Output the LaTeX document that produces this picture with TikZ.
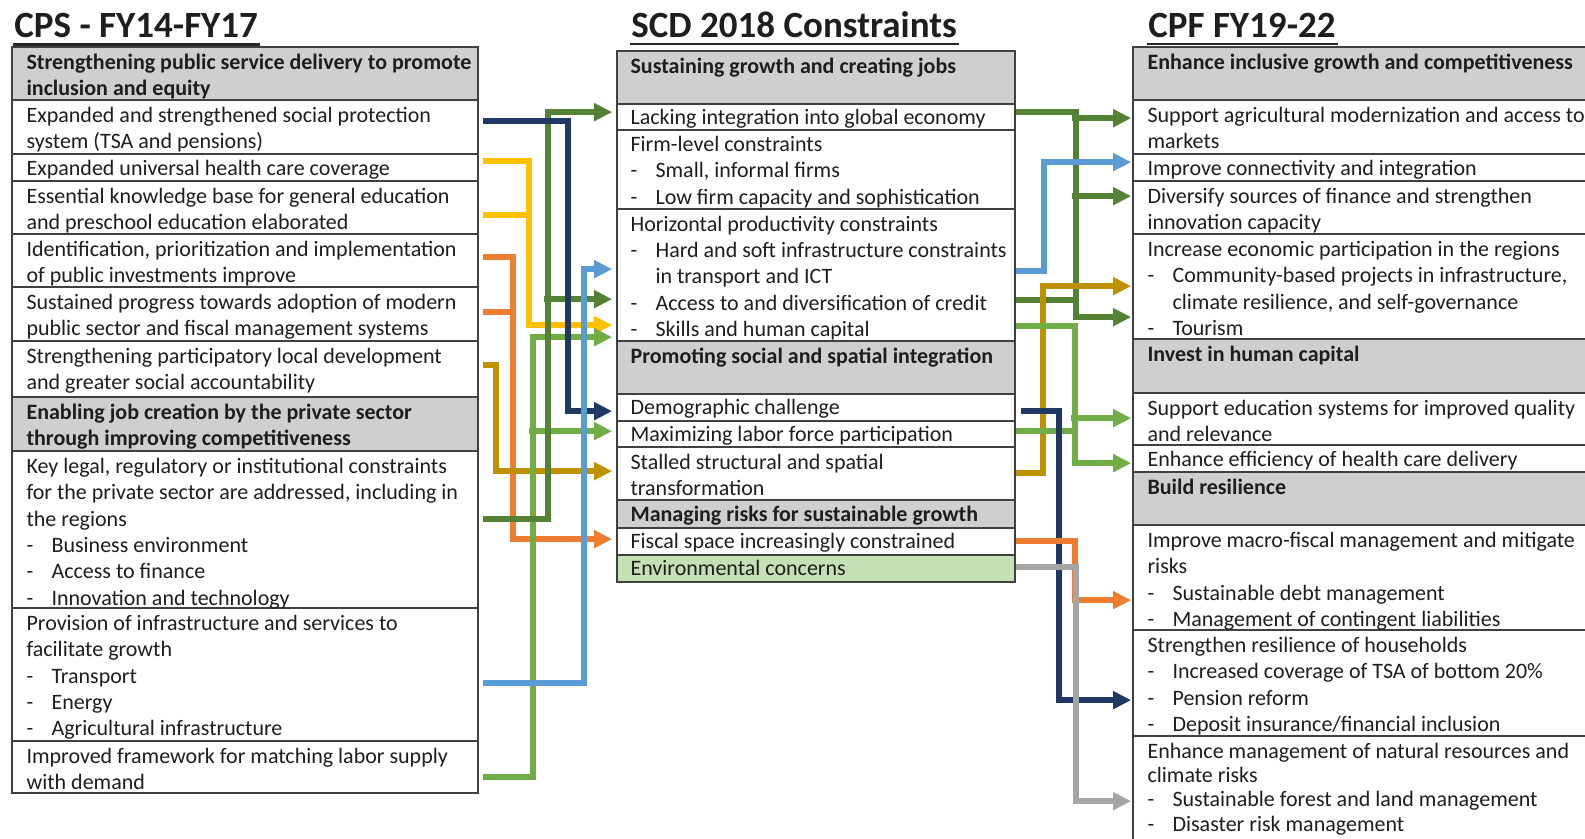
\documentclass[tikz,border=0pt]{standalone}
\usepackage{fontspec}
\setmainfont{Carlito}
\usetikzlibrary{arrows.meta,calc,fit}
\definecolor{navyc}{RGB}{31,56,100}
\definecolor{dgreen}{RGB}{84,130,53}
\definecolor{lgreen}{RGB}{112,173,71}
\definecolor{yellowc}{RGB}{255,192,0}
\definecolor{orangec}{RGB}{237,125,49}
\definecolor{goldc}{RGB}{191,144,0}
\definecolor{bluec}{RGB}{91,155,213}
\definecolor{grayc}{RGB}{165,165,165}
\definecolor{hdgray}{RGB}{208,206,206}
\definecolor{envgreen}{RGB}{197,224,180}
\definecolor{txtc}{RGB}{30,30,30}
\newcommand{\dashitem}[1]{\makebox[12.5pt][l]{-}#1}
\newcommand{\indtext}[1]{\hspace*{12.5pt}#1}
\newcommand{\celltext}[1]{\parbox[t]{300pt}{#1}}
\tikzset{
  cell/.style={draw=black!75, line width=0.85pt, inner sep=0pt, rectangle},
  hd/.style={cell, fill=hdgray},
  env/.style={cell, fill=envgreen},
  txt/.style={anchor=base west, inner sep=0pt, text=txtc, font=\fontsize{11}{13.15}\selectfont},
  ttl/.style={anchor=base west, inner sep=0pt, text=txtc, font=\bfseries\fontsize{18.5}{22}\selectfont},
  conn/.style={line width=2.7pt, -{Triangle[length=9pt,width=8.5pt]}},
  seg/.style={line width=2.7pt}
}
\begin{document}
\begin{tikzpicture}[x=0.5pt,y=-0.5pt]
\useasboundingbox (0,0) rectangle (1585,839);
\clip (0,0) rectangle (1585,839);
\fill[white] (0,0) rectangle (1585,839);

% titles
\node[ttl] (T1) at (14,38) {CPS - FY14-FY17};
\node[ttl] (T2) at (631,37.5) {SCD 2018 Constraints};
\node[ttl] (T3) at (1148,37.5) {CPF FY19-22};
\foreach \t in {T1,T2,T3}
  \draw[line width=1.2pt, black!85] ($(\t.base west)+(-1,6.5)$) -- ($(\t.base east)+(2,6.5)$);

% left column cells
\node[hd,   fit={(12,47)(478,100)}]  (L0) {};
\node[cell, fit={(12,100)(478,154)}] (L1) {};
\node[cell, fit={(12,154)(478,181)}] (L2) {};
\node[cell, fit={(12,181)(478,234)}] (L3) {};
\node[cell, fit={(12,234)(478,287)}] (L4) {};
\node[cell, fit={(12,287)(478,341)}] (L5) {};
\node[cell, fit={(12,341)(478,397)}] (L6) {};
\node[hd,   fit={(12,397)(478,451)}] (L7) {};
\node[cell, fit={(12,451)(478,608)}] (L8) {};
\node[cell, fit={(12,608)(478,741)}] (L9) {};
\node[cell, fit={(12,741)(478,793)}] (L10) {};

\node[txt] (tL0) at ($(L0.north west)+(15,23.5)$) {\celltext{\bfseries Strengthening public service delivery to promote\\inclusion and equity}};
\node[txt] (tL1) at ($(L1.north west)+(15,23.5)$) {\celltext{Expanded and strengthened social protection\\system (TSA and pensions)}};
\node[txt] (tL2) at ($(L2.north west)+(15,22.5)$) {\celltext{Expanded universal health care coverage}};
\node[txt] (tL3) at ($(L3.north west)+(15,23.5)$) {\celltext{Essential knowledge base for general education\\and preschool education elaborated}};
\node[txt] (tL4) at ($(L4.north west)+(15,23.5)$) {\celltext{Identification, prioritization and implementation\\of public investments improve}};
\node[txt] (tL5) at ($(L5.north west)+(15,23.5)$) {\celltext{Sustained progress towards adoption of modern\\public sector and fiscal management systems}};
\node[txt] (tL6) at ($(L6.north west)+(15,23.5)$) {\celltext{Strengthening participatory local development\\and greater social accountability}};
\node[txt] (tL7) at ($(L7.north west)+(15,23.5)$) {\celltext{\bfseries Enabling job creation by the private sector\\through improving competitiveness}};
\node[txt] (tL8) at ($(L8.north west)+(15,23.5)$) {\celltext{Key legal, regulatory or institutional constraints\\for the private sector are addressed, including in\\the regions\\\dashitem{Business environment}\\\dashitem{Access to finance}\\\dashitem{Innovation and technology}}};
\node[txt] (tL9) at ($(L9.north west)+(15,23.5)$) {\celltext{Provision of infrastructure and services to\\facilitate growth\\\dashitem{Transport}\\\dashitem{Energy}\\\dashitem{Agricultural infrastructure}}};
\node[txt] (tL10) at ($(L10.north west)+(15,23.5)$) {\celltext{Improved framework for matching labor supply\\with demand}};

% middle column cells
\node[hd,   fit={(617,51)(1015,104)}]  (M0) {};
\node[cell, fit={(617,104)(1015,130)}] (M1) {};
\node[cell, fit={(617,130)(1015,209)}] (M2) {};
\node[cell, fit={(617,209)(1015,341)}] (M3) {};
\node[hd,   fit={(617,341)(1015,394)}] (M4) {};
\node[cell, fit={(617,394)(1015,421)}] (M5) {};
\node[cell, fit={(617,421)(1015,447)}] (M6) {};
\node[cell, fit={(617,447)(1015,500)}] (M7) {};
\node[hd,   fit={(617,500)(1015,528)}] (M8) {};
\node[cell, fit={(617,528)(1015,555)}] (M9) {};
\node[env,  fit={(617,555)(1015,582)}] (M10) {};

\node[txt] (tM0) at ($(M0.north west)+(14,23)$) {\celltext{\bfseries Sustaining growth and creating jobs}};
\node[txt] (tM1) at ($(M1.north west)+(14,21.5)$) {\celltext{Lacking integration into global economy}};
\node[txt] (tM2) at ($(M2.north west)+(14,22.5)$) {\celltext{Firm-level constraints\\\dashitem{Small, informal firms}\\\dashitem{Low firm capacity and sophistication}}};
\node[txt] (tM3) at ($(M3.north west)+(14,23)$) {\celltext{Horizontal productivity constraints\\\dashitem{Hard and soft infrastructure constraints}\\\indtext{in transport and ICT}\\\dashitem{Access to and diversification of credit}\\\dashitem{Skills and human capital}}};
\node[txt] (tM4) at ($(M4.north west)+(14,23)$) {\celltext{\bfseries Promoting social and spatial integration}};
\node[txt] (tM5) at ($(M5.north west)+(14,21.5)$) {\celltext{Demographic challenge}};
\node[txt] (tM6) at ($(M6.north west)+(14,21.5)$) {\celltext{Maximizing labor force participation}};
\node[txt] (tM7) at ($(M7.north west)+(14,23)$) {\celltext{Stalled structural and spatial\\transformation}};
\node[txt] (tM8) at ($(M8.north west)+(14,22)$) {\celltext{\bfseries Managing risks for sustainable growth}};
\node[txt] (tM9) at ($(M9.north west)+(14,21.5)$) {\celltext{Fiscal space increasingly constrained}};
\node[txt] (tM10) at ($(M10.north west)+(14,21.5)$) {\celltext{Environmental concerns}};

% right column cells
\node[hd,   fit={(1133,47)(1600,100)}]  (R0) {};
\node[cell, fit={(1133,100)(1600,154)}] (R1) {};
\node[cell, fit={(1133,154)(1600,181)}] (R2) {};
\node[cell, fit={(1133,181)(1600,234)}] (R3) {};
\node[cell, fit={(1133,234)(1600,339)}] (R4) {};
\node[hd,   fit={(1133,339)(1600,393)}] (R5) {};
\node[cell, fit={(1133,393)(1600,445)}] (R6) {};
\node[cell, fit={(1133,445)(1600,472)}] (R7) {};
\node[hd,   fit={(1133,472)(1600,525)}] (R8) {};
\node[cell, fit={(1133,525)(1600,630)}] (R9) {};
\node[cell, fit={(1133,630)(1600,736)}] (R10) {};
\node[cell, fit={(1133,736)(1600,900)}] (R11) {};

\node[txt] (tR0) at ($(R0.north west)+(15,23.5)$) {\celltext{\bfseries Enhance inclusive growth and competitiveness}};
\node[txt] (tR1) at ($(R1.north west)+(15,23.5)$) {\celltext{Support agricultural modernization and access to\\markets}};
\node[txt] (tR2) at ($(R2.north west)+(15,22.5)$) {\celltext{Improve connectivity and integration}};
\node[txt] (tR3) at ($(R3.north west)+(15,23.5)$) {\celltext{Diversify sources of finance and strengthen\\innovation capacity}};
\node[txt] (tR4) at ($(R4.north west)+(15,23.5)$) {\celltext{Increase economic participation in the regions\\\dashitem{Community-based projects in infrastructure,}\\\indtext{climate resilience, and self-governance}\\\dashitem{Tourism}}};
\node[txt] (tR5) at ($(R5.north west)+(15,23.5)$) {\celltext{\bfseries Invest in human capital}};
\node[txt] (tR6) at ($(R6.north west)+(15,23.5)$) {\celltext{Support education systems for improved quality\\and relevance}};
\node[txt] (tR7) at ($(R7.north west)+(15,22.5)$) {\celltext{Enhance efficiency of health care delivery}};
\node[txt] (tR8) at ($(R8.north west)+(15,23.5)$) {\celltext{\bfseries Build resilience}};
\node[txt] (tR9) at ($(R9.north west)+(15,23.5)$) {\celltext{Improve macro-fiscal management and mitigate\\risks\\\dashitem{Sustainable debt management}\\\dashitem{Management of contingent liabilities}}};
\node[txt] (tR10) at ($(R10.north west)+(15,23.5)$) {\celltext{Strengthen resilience of households\\\dashitem{Increased coverage of TSA of bottom 20\%}\\\dashitem{Pension reform}\\\dashitem{Deposit insurance/financial inclusion}}};
\node[txt, font=\fontsize{11}{12.2}\selectfont] (tR11) at ($(R11.north west)+(15,23)$) {\celltext{Enhance management of natural resources and\\climate risks\\\dashitem{Sustainable forest and land management}\\\dashitem{Disaster risk management}}};

% ---- connectors left -> middle ----
% yellow
\draw[conn, yellowc] ($(L2.north east)+(4,8)$) -- ++(46,0) |- ($(M3.north west)+(-4,117)$);
\draw[seg, yellowc] ($(L3.north east)+(4,35)$) -- ++(48.5,0);
% orange
\draw[conn, orangec] ($(L4.north east)+(4,24)$) -- ++(30,0) |- ($(M9.north west)+(-4,12)$);
\draw[seg, orangec] ($(L5.north east)+(4,26)$) -- ++(32.5,0);
% gold
\draw[conn, goldc] ($(L6.north east)+(4,25)$) -- ++(13,0) |- ($(M7.north west)+(-4,25)$);
% light green
\draw[conn, lgreen] ($(L10.north east)+(4,37)$) -- ++(50,0) |- ($(M3.north west)+(-4,129)$);
\draw[conn, lgreen] ($(M6.north west)+(-87.5,11)$) -- ($(M6.north west)+(-4,11)$);
% dark green
\draw[conn, dgreen] ($(L8.north east)+(4,69)$) -- ++(65,0) |- ($(M1.north west)+(-4,9)$);
\draw[conn, dgreen] ($(M3.north west)+(-72.5,91)$) -- ($(M3.north west)+(-4,91)$);
% navy
\draw[conn, navyc] ($(L1.north east)+(4,22)$) -- ++(85,0) |- ($(M5.north west)+(-4,18)$);
% blue
\draw[conn, bluec] ($(L9.north east)+(4,76)$) -- ++(101,0) |- ($(M3.north west)+(-4,61)$);

% ---- connectors middle -> right ----
% dark green
\draw[conn, dgreen] ($(M1.north east)+(0,9)$) -- ++(60,0) |- ($(R4.north west)+(-1,84)$);
\draw[conn, dgreen] ($(R1.north west)+(-60.5,19)$) -- ($(R1.north west)+(-1,19)$);
\draw[conn, dgreen] ($(R3.north west)+(-60.5,16)$) -- ($(R3.north west)+(-1,16)$);
\draw[seg, dgreen] ($(M3.north east)+(0,92)$) -- ++(62.5,0);
% blue
\draw[conn, bluec] ($(M3.north east)+(0,63)$) -- ++(28,0) |- ($(R2.north west)+(-1,9)$);
% gold
\draw[conn, goldc] ($(M7.north east)+(0,27)$) -- ++(27,0) |- ($(R4.north west)+(-1,53)$);
% light green
\draw[conn, lgreen] ($(M3.north east)+(0,118)$) -- ++(59,0) |- ($(R7.north west)+(-1,19)$);
\draw[conn, lgreen] ($(R6.north west)+(-61.5,26)$) -- ($(R6.north west)+(-1,26)$);
\draw[seg, lgreen] ($(M6.north east)+(0,11)$) -- ++(61.5,0);
% navy
\draw[conn, navyc] ($(M5.north east)+(5,18)$) -- ++(38,0) |- ($(R10.north west)+(-1,71)$);
% orange
\draw[conn, orangec] ($(M9.north east)+(0,14)$) -- ++(59,0) |- ($(R9.north west)+(-1,76)$);
% gray
\draw[conn, grayc] ($(M10.north east)+(0,13)$) -- ++(60,0) |- ($(R11.north west)+(-1,66)$);
\end{tikzpicture}
\end{document}
